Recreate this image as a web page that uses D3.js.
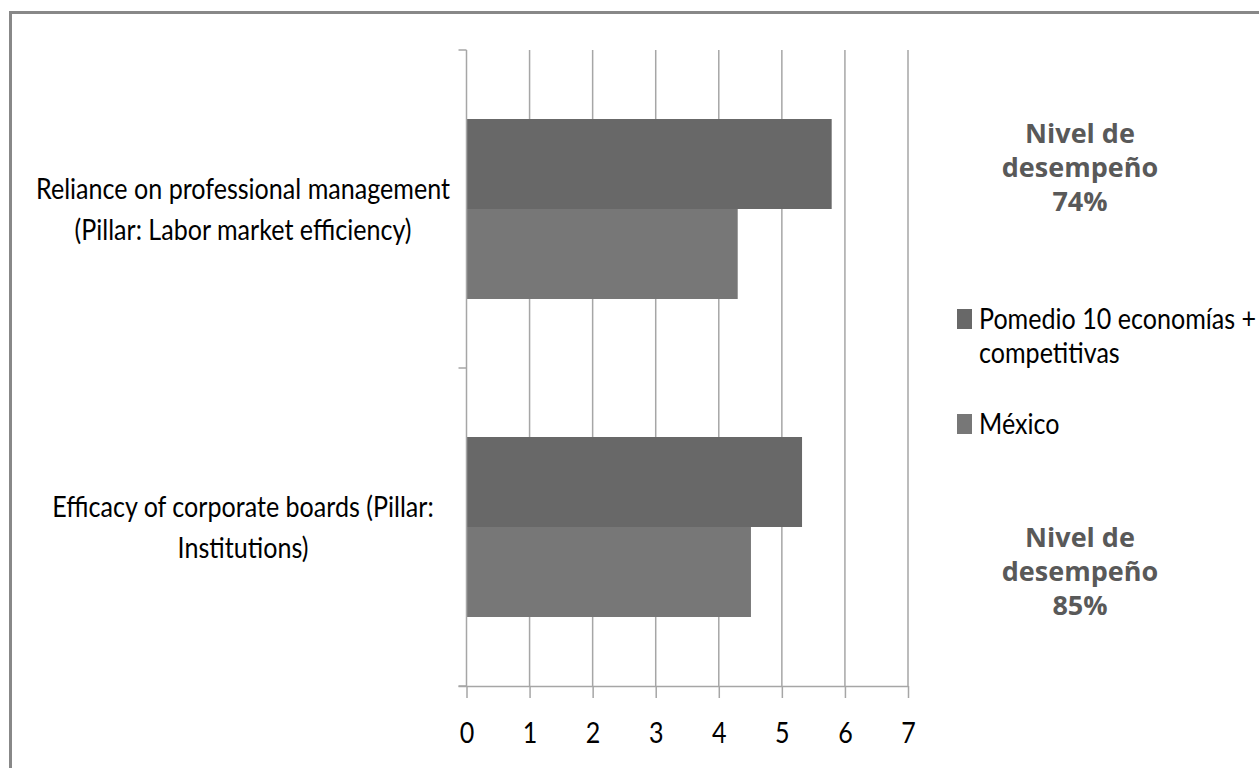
<!DOCTYPE html>
<html>
<head>
<meta charset="utf-8">
<script src="https://cdn.jsdelivr.net/npm/d3@7"></script>
<style>
  html, body { margin: 0; padding: 0; background: #ffffff; }
  svg { display: block; }
</style>
</head>
<body>
<svg id="chart" width="1259" height="768"></svg>
<script>
// ---- data ----
const categories = [
  ["Reliance on professional management", "(Pillar: Labor market efficiency)"],
  ["Efficacy of corporate boards (Pillar:", "Institutions)"]
];
const seriesNames = ["Pomedio 10 economías + competitivas", "México"];
const legendLines = [["Pomedio 10 economías +", "competitivas"], ["México"]];
const promedioValues = [5.79, 5.32];
const mexicoValues = [4.30, 4.51];
const xTicks = [0, 1, 2, 3, 4, 5, 6, 7];
const annotations = [["Nivel de", "desempeño", "74%"], ["Nivel de", "desempeño", "85%"]];

// ---- styles ----
const colors = ["#686868", "#777777"];
const gridColor = "#a6a6a6";
const textFont = "Lato, 'Open Sans', sans-serif";
const textSize = 29;

const svg = d3.select("#chart");

// horizontal compression factor for the narrow label font
const probe = svg.append("text").attr("font-family", textFont).attr("font-size", textSize)
  .text(categories[0][0]);
const sx = 414 / probe.node().getComputedTextLength();
probe.remove();

// frame
svg.append("rect")
  .attr("x", 10.5).attr("y", 12.5)
  .attr("width", 1400).attr("height", 900)
  .attr("fill", "none").attr("stroke", "#888888").attr("stroke-width", 3);

const pLeft = 466.5, pRight = 908, pTop = 50, pBottom = 686;

const x = d3.scaleLinear().domain([0, 7]).range([pLeft, pRight]);
const keys = categories.map((d, i) => i);
const y = d3.scaleBand().domain(keys).range([pTop, pBottom])
  .paddingInner(0.434).paddingOuter(0.217);
const ySub = d3.scaleBand().domain([0, 1]).range([0, y.bandwidth()]);

// gridlines
svg.append("g").selectAll("line")
  .data(xTicks.filter(t => t > 0))
  .join("line")
  .attr("x1", d => x(d)).attr("x2", d => x(d))
  .attr("y1", pTop).attr("y2", pBottom)
  .attr("stroke", gridColor).attr("stroke-width", 1.5);

// bars
const rows = keys.map(i => ({ i, vals: [promedioValues[i], mexicoValues[i]] }));
const g = svg.append("g");
rows.forEach(r => {
  g.selectAll(null)
    .data(r.vals)
    .join("rect")
    .attr("x", x(0))
    .attr("y", (d, j) => y(r.i) + ySub(j))
    .attr("width", d => x(d) - x(0))
    .attr("height", ySub.bandwidth())
    .attr("fill", (d, j) => colors[j]);
});

// x axis
const xAxis = d3.axisBottom(x).tickValues(xTicks).tickSize(12)
  .tickFormat(d3.format("d"));
const gx = svg.append("g").attr("transform", `translate(0,${pBottom})`).call(xAxis);
gx.select(".domain").attr("d", `M${pLeft - 8},0.5H${pRight}`).attr("stroke", gridColor).attr("stroke-width", 1.5);
gx.selectAll(".tick line").attr("stroke", gridColor).attr("stroke-width", 1.5);
gx.selectAll(".tick text")
  .attr("y", 57).attr("dy", 0)
  .attr("transform", `scale(${sx},1)`)
  .attr("font-family", textFont).attr("font-size", textSize).attr("fill", "#000");

// y axis line + ticks at band boundaries
svg.append("line")
  .attr("x1", pLeft).attr("x2", pLeft).attr("y1", pTop).attr("y2", pBottom)
  .attr("stroke", gridColor).attr("stroke-width", 1.5);
const boundaries = [pTop, (y(0) + y.bandwidth() + y(1)) / 2, pBottom];
svg.append("g").selectAll("line").data(boundaries).join("line")
  .attr("x1", pLeft - 8).attr("x2", pLeft)
  .attr("y1", d => d).attr("y2", d => d)
  .attr("stroke", gridColor).attr("stroke-width", 1.5);

// category labels
const lab = svg.append("g");
categories.forEach((lines, i) => {
  const cy = y(i) + y.bandwidth() / 2;
  const t = lab.append("g").attr("transform", `translate(243,0) scale(${sx},1)`)
    .append("text")
    .attr("text-anchor", "middle")
    .attr("font-family", textFont).attr("font-size", textSize).attr("fill", "#000");
  lines.forEach((ln, k) => {
    t.append("tspan").attr("x", 0).attr("y", cy - 10 + k * 41).text(ln);
  });
});

// legend
const leg = svg.append("g");
const legY = [329, 434];
legendLines.forEach((lines, i) => {
  leg.append("rect").attr("x", 957).attr("y", legY[i] - 20)
    .attr("width", 15).attr("height", 20).attr("fill", colors[i]);
  const t = leg.append("g").attr("transform", `translate(979,0) scale(${sx},1)`)
    .append("text")
    .attr("font-family", textFont).attr("font-size", textSize).attr("fill", "#000");
  lines.forEach((ln, k) => {
    t.append("tspan").attr("x", 0).attr("y", legY[i] + k * 34).text(ln);
  });
});

// annotations
const ann = svg.append("g");
const annY = [143, 547];
annotations.forEach((lines, i) => {
  const t = ann.append("text")
    .attr("text-anchor", "middle")
    .attr("font-family", "'Open Sans', sans-serif").attr("font-weight", 700)
    .attr("font-size", 27).attr("fill", "#595959");
  lines.forEach((ln, k) => {
    t.append("tspan").attr("x", 1080).attr("y", annY[i] + k * 34).text(ln);
  });
});
</script>
</body>
</html>
